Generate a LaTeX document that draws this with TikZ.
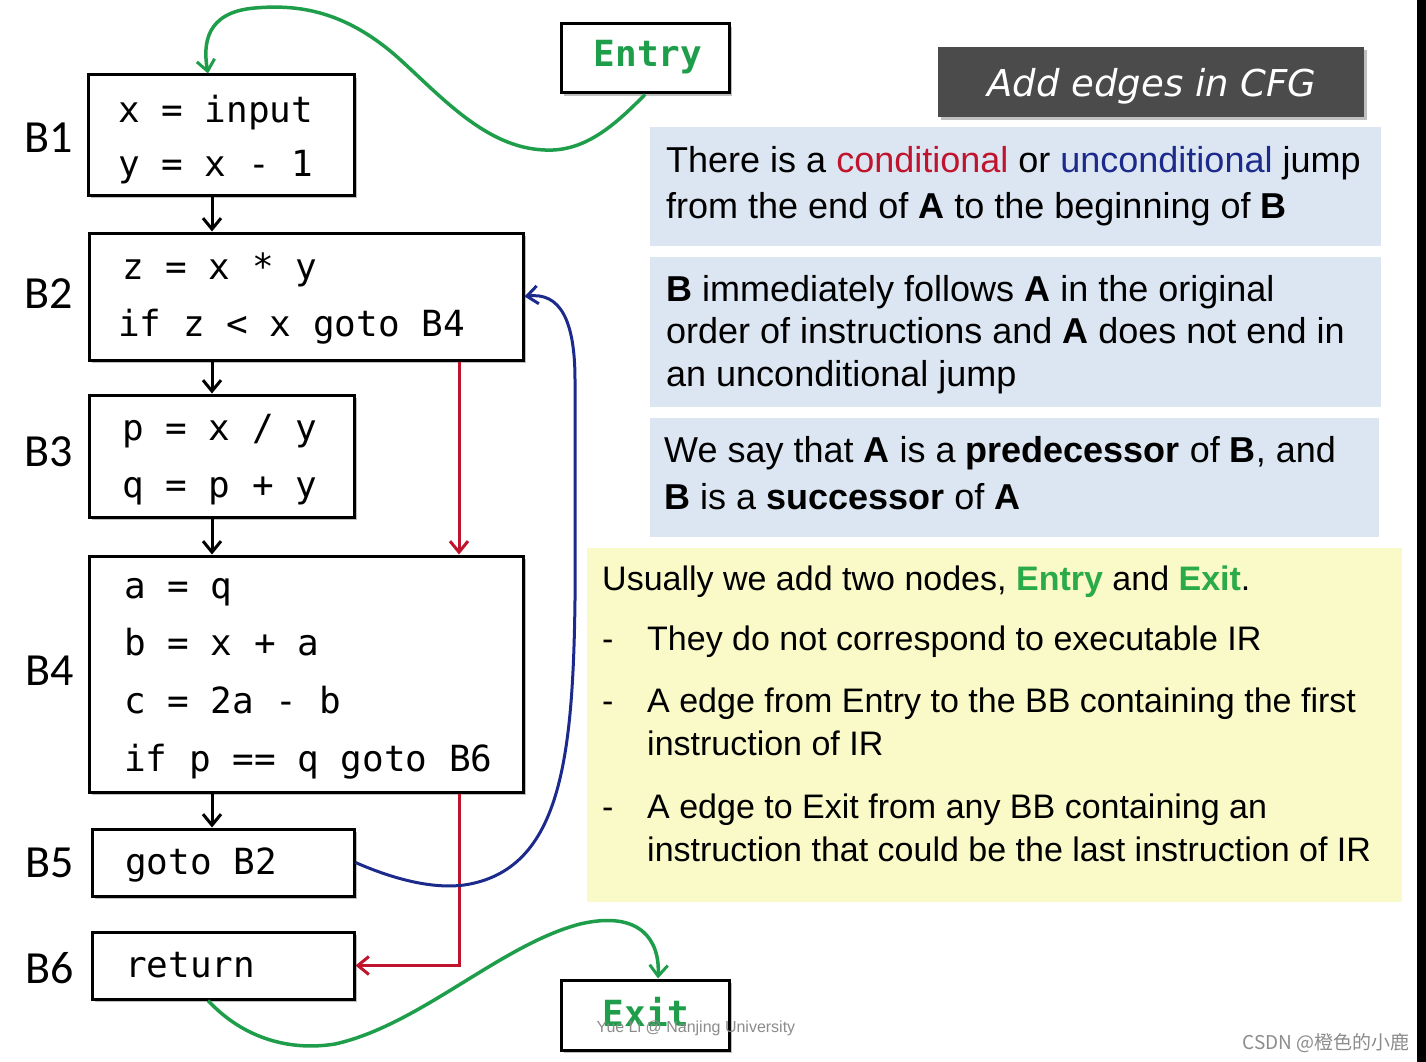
\documentclass[tikz,border=0pt]{standalone}
\usepackage{fontspec}
\setmainfont{Liberation Sans}
\newfontfamily\codefont{DejaVu Sans Mono}
\newfontfamily\labfont{Carlito}
\newfontfamily\titlefont{DejaVu Sans}
\newfontfamily\cjkfont{Noto Sans CJK SC}
\usetikzlibrary{arrows.meta,shadows}
\definecolor{cred}{HTML}{C0142D}
\definecolor{cblue}{HTML}{1C2A8C}
\definecolor{cgreen}{HTML}{1E9E4A}
\definecolor{tgreen}{HTML}{2BAA48}
\definecolor{lblue}{HTML}{DCE6F2}
\definecolor{lyellow}{HTML}{FAFAC8}
\definecolor{tbox}{HTML}{4B4B4B}
\tikzset{
  blk/.style={draw=black, line width=3pt, fill=white, inner sep=0pt,
    drop shadow={shadow xshift=3pt, shadow yshift=-3pt, fill=black, opacity=0.25}},
  code/.style={font=\codefont\fontsize{36}{40}\selectfont, anchor=base west, inner sep=0pt},
  ecode/.style={font=\codefont\bfseries\fontsize{36}{40}\selectfont, text=cgreen, inner sep=0pt},
  blab/.style={font=\labfont\fontsize{46}{50}\selectfont, anchor=base west, inner sep=0pt},
  rtxt/.style={font=\fontsize{36}{42}\selectfont, anchor=base west, inner sep=0pt},
  ytxt/.style={font=\fontsize{34}{40}\selectfont, anchor=base west, inner sep=0pt},
  panel/.style={inner sep=0pt, draw=none},
  flow/.style={line width=3pt, -{Straight Barb[length=11pt,width=18pt,line width=3pt]}},
  gflow/.style={flow, draw=cgreen, line width=3.5pt},
}
\begin{document}
\begin{tikzpicture}[x=1pt,y=-1pt]
\useasboundingbox (0,0) rectangle (1426,1062);
\fill[white] (0,0) rectangle (1426,1062);
\fill[black] (1417,0) rectangle (1426,1062);

% right panels
\node[panel, fill=tbox, minimum width=426pt, minimum height=70pt,
  drop shadow={shadow xshift=3pt, shadow yshift=-3pt, fill=black, opacity=0.25}] (title) at (1151,82) {};
\node[font=\titlefont\itshape\fontsize{37}{40}\selectfont, text=white, inner sep=0pt] (titletxt) at (1152,86) {Add edges in CFG};
\node[panel, fill=lblue, minimum width=731pt, minimum height=119pt] (p1) at (1015.5,186.5) {};
\node[panel, fill=lblue, minimum width=731pt, minimum height=150pt] (p2) at (1015.5,332) {};
\node[panel, fill=lblue, minimum width=729pt, minimum height=119pt] (p3) at (1014.5,477.5) {};
\node[panel, fill=lyellow, minimum width=815pt, minimum height=354pt] (p4) at (994.5,725) {};

\node[rtxt] (t11) at (666,172) {There is a \textcolor{cred}{conditional} or \textcolor{cblue}{unconditional} jump};
\node[rtxt] (t12) at (666,218) {from the end of \textbf{A} to the beginning of \textbf{B}};
\node[rtxt] (t21) at (666,301) {\textbf{B} immediately follows \textbf{A} in the original};
\node[rtxt] (t22) at (666,343) {order of instructions and \textbf{A} does not end in};
\node[rtxt] (t23) at (666,386) {an unconditional jump};
\node[rtxt] (t31) at (664,462) {We say that \textbf{A} is a \textbf{predecessor} of \textbf{B}, and};
\node[rtxt] (t32) at (664,509) {\textbf{B} is a \textbf{successor} of \textbf{A}};
\node[ytxt] (t41) at (602,590) {Usually we add two nodes, \textbf{\textcolor{tgreen}{Entry}} and \textbf{\textcolor{tgreen}{Exit}}.};
\node[ytxt] (d1) at (602,650) {-};
\node[ytxt] (t42) at (647,650) {They do not correspond to executable IR};
\node[ytxt] (d2) at (602,712) {-};
\node[ytxt] (t43) at (647,712) {A edge from Entry to the BB containing the first};
\node[ytxt] (t44) at (647,755) {instruction of IR};
\node[ytxt] (d3) at (602,818) {-};
\node[ytxt] (t45) at (647,818) {A edge to Exit from any BB containing an};
\node[ytxt] (t46) at (647,861) {instruction that could be the last instruction of IR};

% blocks
\node[blk, minimum width=266pt, minimum height=120pt] (b1) at (221,135) {};
\node[blk, minimum width=434pt, minimum height=127pt] (b2) at (306,296.5) {};
\node[blk, minimum width=265pt, minimum height=122pt] (b3) at (221.5,456) {};
\node[blk, minimum width=434pt, minimum height=236pt] (b4) at (306,674) {};
\node[blk, minimum width=262pt, minimum height=67pt] (b5) at (223,862.5) {};
\node[blk, minimum width=262pt, minimum height=67pt] (b6) at (223,965.5) {};
\node[blk, minimum width=168pt, minimum height=69pt] (entry) at (645,58.5) {};
\node[blk, minimum width=168pt, minimum height=70pt] (exit) at (645,1015) {};
\node[ecode] (entrytxt) at (648,57) {Entry};
\node[ecode] (exittxt) at (646,1012) {Exit};

% block labels
\node[blab] (l1) at (24,153) {B1};
\node[blab] (l2) at (24,308) {B2};
\node[blab] (l3) at (24,466) {B3};
\node[blab] (l4) at (25,685) {B4};
\node[blab] (l5) at (25,877) {B5};
\node[blab] (l6) at (25,983) {B6};

% code
\node[code] (c11) at (118,122) {x = input};
\node[code] (c12) at (118,176) {y = x - 1};
\node[code] (c21) at (122,279) {z = x * y};
\node[code] (c22) at (118,336) {if z < x goto B4};
\node[code] (c31) at (122,440) {p = x / y};
\node[code] (c32) at (122,497) {q = p + y};
\node[code] (c41) at (124,598) {a = q};
\node[code] (c42) at (124,655) {b = x + a};
\node[code] (c43) at (124,713) {c = 2a - b};
\node[code] (c44) at (124,771) {if p == q goto B6};
\node[code] (c51) at (125,874) {goto B2};
\node[code] (c61) at (125,977) {return};

% watermarks
\node[font=\fontsize{16}{17}\selectfont, text=black!45, inner sep=0pt] (wm) at (696,1028) {Yue Li @ Nanjing University};
\node[font=\cjkfont\fontsize{19}{20}\selectfont, text=black!45, inner sep=0pt, anchor=east] (csdn) at (1410,1043) {CSDN @橙色的小鹿};

% fall-through edges
\coordinate (col) at (212,0);
\coordinate (rcol) at (459,0);
\draw[flow] (b1.south -| col) -- (b2.north -| col);
\draw[flow] (b2.south -| col) -- (b3.north -| col);
\draw[flow] (b3.south -| col) -- (b4.north -| col);
\draw[flow] (b4.south -| col) -- (b5.north -| col);

% conditional jumps (red)
\draw[flow, draw=cred] (b2.south -| rcol) -- (b4.north -| rcol);
\draw[flow, draw=cred] (b4.south -| rcol) |- (b6.east);

% unconditional jump (blue)
\draw[flow, draw=cblue] (b5.east) .. controls (400,882) and (440,890) .. (470,884)
  .. controls (560,866) and (573,760) .. (575,600)
  -- (575,380) .. controls (575,320) and (560,292) .. (b2.east);

% entry / exit (green)
\draw[gflow] (entry.south) .. controls (615,125) and (585,152) .. (545,150)
  .. controls (485,148) and (440,95) .. (395,55)
  .. controls (345,12) and (300,4) .. (255,8)
  .. controls (205,12) and (203,45) .. (b1.north -| 208,0);
\draw[gflow] (b6.south -| 208,0) .. controls (240,1035) and (285,1052) .. (335,1044)
  .. controls (420,1025) and (500,945) .. (580,924)
  .. controls (640,910) and (660,940) .. (exit.north -| 658,0);
\end{tikzpicture}
\end{document}
